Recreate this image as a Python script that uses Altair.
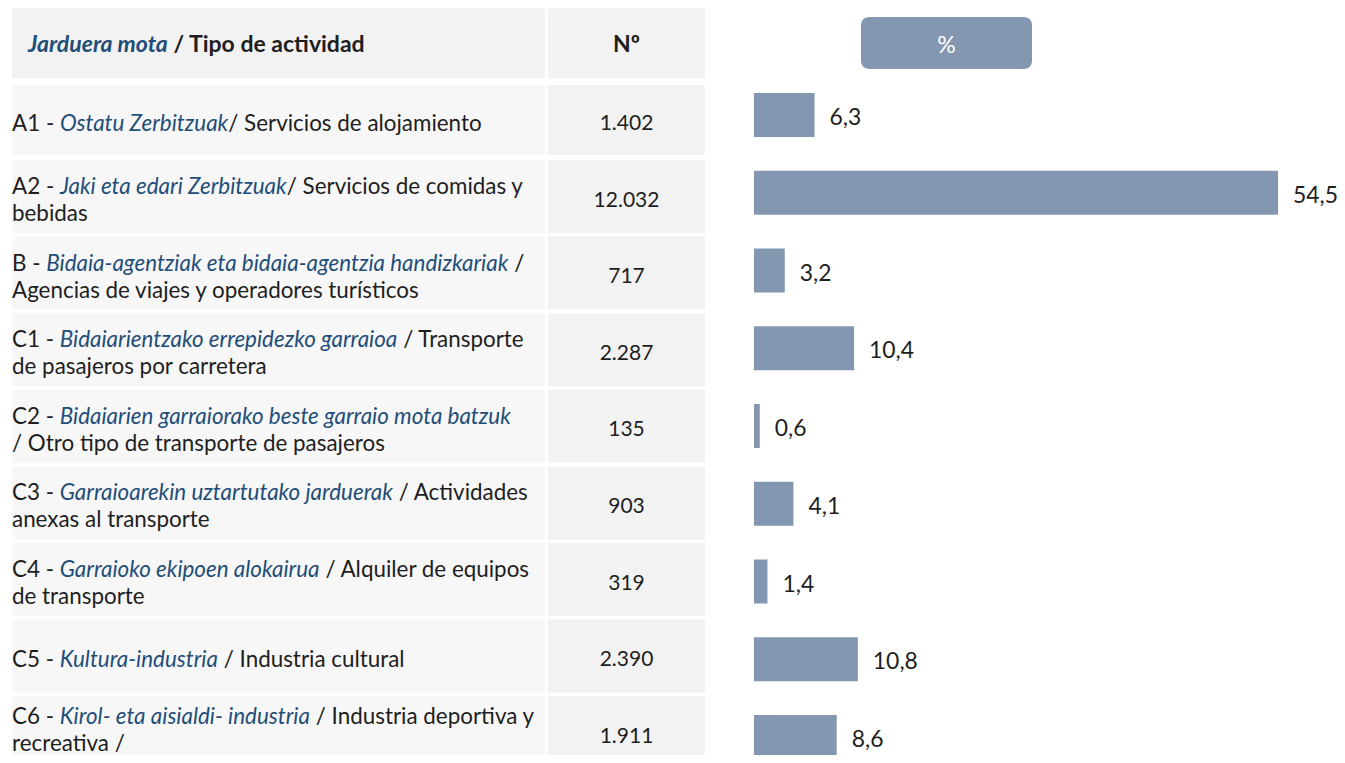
import subprocess
import altair as alt
import pandas as pd

# ---------------- data ----------------
codes = ["A1", "A2", "B", "C1", "C2", "C3", "C4", "C5", "C6"]
basque = [
    "Ostatu Zerbitzuak",
    "Jaki eta edari Zerbitzuak",
    "Bidaia-agentziak eta bidaia-agentzia handizkariak",
    "Bidaiarientzako errepidezko garraioa",
    "Bidaiarien garraiorako beste garraio mota batzuk",
    "Garraioarekin uztartutako jarduerak",
    "Garraioko ekipoen alokairua",
    "Kultura-industria",
    "Kirol- eta aisialdi- industria",
]
spanish = [
    "/ Servicios de alojamiento",
    "/ Servicios de comidas y\nbebidas",
    " /\nAgencias de viajes y operadores turísticos",
    " / Transporte\nde pasajeros por carretera",
    "\n/ Otro tipo de transporte de pasajeros",
    " / Actividades\nanexas al transporte",
    " / Alquiler de equipos\nde transporte",
    " / Industria cultural",
    " / Industria deportiva y\nrecreativa /",
]
counts = [1402, 12032, 717, 2287, 135, 903, 319, 2390, 1911]
shares = [6.3, 54.5, 3.2, 10.4, 0.6, 4.1, 1.4, 10.8, 8.6]

header_eu = "Jarduera mota"
header_es = " / Tipo de actividad"
header_count = "Nº"
header_share = "%"

# ---------------- style / layout ----------------
FONT = "Lato"
BLUE = "#1F4E79"
BLACK = "#1E1E1E"
BAR = "#8497B0"
HEAD_BG = "#F2F2F2"
ROW_BG = "#F7F7F7"
NUM_BG = "#F2F2F2"

W, H = 1329, 747
ROW0, ROW_PITCH = 35.3, 76.6        # table rows (header = index 0)
BAR0, BAR_PITCH = 29.25, 77.75      # bar rows
LINE_PITCH = 27.0
TXT_DY = 4
LABEL_X0, LABEL_X1 = 4, 537
NUM_X0, NUM_X1 = 540, 697
NUM_XC = (NUM_X0 + NUM_X1) / 2
TEXT_X = 4
HEAD_TEXT_X = 20
ZERO_X = 746
PX_PER_PCT = 524 / 54.5

# ---------------- text measurement ----------------
diag = []
try:
    from PIL import ImageFont
except Exception:
    ImageFont = None
    diag.append("no PIL")

_paths = {}


def font_path(italic, bold):
    key = (italic, bold)
    if key not in _paths:
        pat = FONT + (":bold" if bold else "") + (":italic" if italic else "")
        p = None
        try:
            r = subprocess.run(["fc-match", "-f", "%{file}", pat],
                               capture_output=True, text=True, timeout=10)
            p = r.stdout.strip() or None
        except Exception as e:
            diag.append("fc " + str(e)[:40])
        _paths[key] = p
    return _paths[key]


_fonts = {}


def width(s, size, italic=False, bold=False):
    if not s:
        return 0.0
    if ImageFont is not None:
        p = font_path(italic, bold)
        if p:
            try:
                if p not in _fonts:
                    _fonts[p] = ImageFont.truetype(p, 100)
                return _fonts[p].getlength(s) * size / 100.0
            except Exception as e:
                diag.append("pil " + str(e)[:40])
    return len(s) * size * (0.56 if bold else 0.5)


def split_lines(tokens):
    lines = [[]]
    for text, st in tokens:
        for k, part in enumerate(text.split("\n")):
            if k > 0:
                lines.append([])
            if part:
                lines[-1].append((part, st))
    return lines


def line_width(line, size, bold=False):
    return sum(width(t, size, st == "eu", bold) for t, st in line)


row_lines = [split_lines([(codes[i] + " - ", "plain"), (basque[i], "eu"), (spanish[i], "plain")])
             for i in range(len(codes))]

# font sizes fitted to widths measured on the reference
size_main = 24 * 469 / max(line_width(row_lines[0][0], 24), 1)
widest = max(line_width(l, size_main) for lines in row_lines for l in lines)
if widest > LABEL_X1 - TEXT_X:
    size_main *= (LABEL_X1 - TEXT_X) / widest
head_tokens = [(header_eu, "eu"), (header_es, "plain")]
size_head = 24 * 337 / max(line_width(head_tokens, 24, True), 1)
size_num = 24 * 66 / max(width("12.032", 24), 1)
size_lab = 26 * 45 / max(width("54,5", 26), 1)
size_main, size_head, size_num, size_lab = [round(min(max(s, 16), 28), 1)
                                            for s in (size_main, size_head, size_num, size_lab)]


def layout(lines, x0, idx, size, bold=False, dy=0.0):
    out = []
    n = len(lines)
    offs = [(k - (n - 1) / 2) * LINE_PITCH for k in range(n)]
    # keep the whole text block inside the drawing area
    bottom = ROW0 + ROW_PITCH * idx + offs[-1] + dy + 0.45 * size
    shift = max(0.0, bottom - (H - 1))
    for k, line in enumerate(lines):
        cur = x0
        yv = idx + (offs[k] + dy - shift) / ROW_PITCH
        for text, st in line:
            lead = len(text) - len(text.lstrip(" "))
            out.append({"x": cur + width(" " * lead, size, st == "eu", bold),
                        "y": yv, "text": text.strip(" "), "style": st})
            cur += width(text, size, st == "eu", bold)
    return out


segs = []
for i, lines in enumerate(row_lines):
    segs += layout(lines, TEXT_X, i + 1, size_main, dy=TXT_DY)
seg_df = pd.DataFrame(segs)
head_df = pd.DataFrame(layout([head_tokens], HEAD_TEXT_X, 0, size_head, True, dy=2))

# ---------------- tables ----------------
idx = list(range(1, len(codes) + 1))
half = [35 if i == 1 else 36.5 for i in idx]
cells_df = pd.DataFrame({
    "idx": idx,
    "y0": [i - h / ROW_PITCH for i, h in zip(idx, half)],
    "y1": [i + h / ROW_PITCH for i, h in zip(idx, half)],
})
hcell_df = pd.DataFrame({"y0": [-35 / ROW_PITCH], "y1": [35 / ROW_PITCH],
                         "idx": [0], "count_head": [header_count], "share_head": [header_share]})
val_df = pd.DataFrame({"idx": idx, "code": codes, "count": counts, "share": shares})

ys = alt.Scale(domain=[-ROW0 / ROW_PITCH, (H - ROW0) / ROW_PITCH], reverse=True,
               nice=False, zero=False, padding=0)
xb = alt.Scale(domain=[-ZERO_X / PX_PER_PCT, (W - ZERO_X) / PX_PER_PCT],
               nice=False, zero=False, padding=0)
bar_row = f"({BAR0} + {BAR_PITCH} * datum.idx - {ROW0}) / {ROW_PITCH}"

head_cells = alt.Chart(hcell_df).mark_rect(color=HEAD_BG).encode(
    x=alt.value(LABEL_X0), x2=alt.value(LABEL_X1),
    y=alt.Y("y0:Q", scale=ys, axis=None), y2="y1:Q")
head_cells2 = alt.Chart(hcell_df).mark_rect(color=HEAD_BG).encode(
    x=alt.value(NUM_X0), x2=alt.value(NUM_X1),
    y=alt.Y("y0:Q", scale=ys, axis=None), y2="y1:Q")
label_cells = alt.Chart(cells_df).mark_rect(color=ROW_BG).encode(
    x=alt.value(LABEL_X0), x2=alt.value(LABEL_X1),
    y=alt.Y("y0:Q", scale=ys, axis=None), y2="y1:Q")
num_cells = alt.Chart(cells_df).mark_rect(color=NUM_BG).encode(
    x=alt.value(NUM_X0), x2=alt.value(NUM_X1),
    y=alt.Y("y0:Q", scale=ys, axis=None), y2="y1:Q")

txt_plain = alt.Chart(seg_df).transform_filter("datum.style == 'plain'").mark_text(
    align="left", baseline="middle", font=FONT, fontSize=size_main, color=BLACK).encode(
    x=alt.X("x:Q", scale=None, axis=None), y=alt.Y("y:Q", scale=ys, axis=None), text="text:N")
txt_eu = alt.Chart(seg_df).transform_filter("datum.style == 'eu'").mark_text(
    align="left", baseline="middle", font=FONT, fontSize=size_main, fontStyle="italic", color=BLUE).encode(
    x=alt.X("x:Q", scale=None, axis=None), y=alt.Y("y:Q", scale=ys, axis=None), text="text:N")
head_plain = alt.Chart(head_df).transform_filter("datum.style == 'plain'").mark_text(
    align="left", baseline="middle", font=FONT, fontSize=size_head, fontWeight="bold", color=BLACK).encode(
    x=alt.X("x:Q", scale=None, axis=None), y=alt.Y("y:Q", scale=ys, axis=None), text="text:N")
head_eu = alt.Chart(head_df).transform_filter("datum.style == 'eu'").mark_text(
    align="left", baseline="middle", font=FONT, fontSize=size_head, fontWeight="bold",
    fontStyle="italic", color=BLUE).encode(
    x=alt.X("x:Q", scale=None, axis=None), y=alt.Y("y:Q", scale=ys, axis=None), text="text:N")
head_num = alt.Chart(hcell_df).mark_text(
    align="center", baseline="middle", dy=2, font=FONT, fontSize=size_head, fontWeight="bold",
    color=BLACK).encode(
    x=alt.value(NUM_XC), y=alt.Y("idx:Q", scale=ys, axis=None), text="count_head:N")

num_txt = alt.Chart(val_df).transform_calculate(
    lbl="replace(format(datum.count, ','), ',', '.')").mark_text(
    align="center", baseline="middle", dy=TXT_DY, font=FONT, fontSize=size_num, color=BLACK).encode(
    x=alt.value(NUM_XC), y=alt.Y("idx:Q", scale=ys, axis=None), text="lbl:N")

pct_box = alt.Chart(hcell_df).mark_rect(color=BAR, cornerRadius=8).encode(
    x=alt.value(853), x2=alt.value(1024), y=alt.value(9), y2=alt.value(61))
pct_txt = alt.Chart(hcell_df).mark_text(
    align="center", baseline="middle", font=FONT, fontSize=23, color="white").encode(
    x=alt.value(938.5), y=alt.value(38), text="share_head:N")

bars = alt.Chart(val_df).transform_calculate(brow=bar_row).mark_bar(
    color=BAR, height=44, orient="horizontal").encode(
    x=alt.X("share:Q", scale=xb, axis=None), x2=alt.datum(0),
    y=alt.Y("brow:Q", scale=ys, axis=None))
bar_lbl = alt.Chart(val_df).transform_calculate(
    brow=bar_row, lbl="replace(format(datum.share, '.1f'), '.', ',')").mark_text(
    align="left", baseline="middle", dx=15, dy=3, font=FONT, fontSize=size_lab, color=BLACK).encode(
    x=alt.X("share:Q", scale=xb, axis=None), y=alt.Y("brow:Q", scale=ys, axis=None), text="lbl:N")

layers = [head_cells, head_cells2, label_cells, num_cells, txt_plain, txt_eu, head_plain, head_eu,
          head_num, num_txt, pct_box, pct_txt, bars, bar_lbl]
if diag:
    dg = pd.DataFrame({"t": ["; ".join(diag)]})
    layers.append(alt.Chart(dg).mark_text(align="right", color="red", fontSize=12).encode(
        x=alt.value(W - 5), y=alt.value(H - 10), text="t:N"))

chart = alt.layer(*layers).resolve_scale(x="independent").properties(
    width=W, height=H, padding=0, autosize=alt.AutoSizeParams(type="none")
).configure_view(stroke=None)

chart.save("out.html", embed_options={"renderer": "svg", "actions": False})
